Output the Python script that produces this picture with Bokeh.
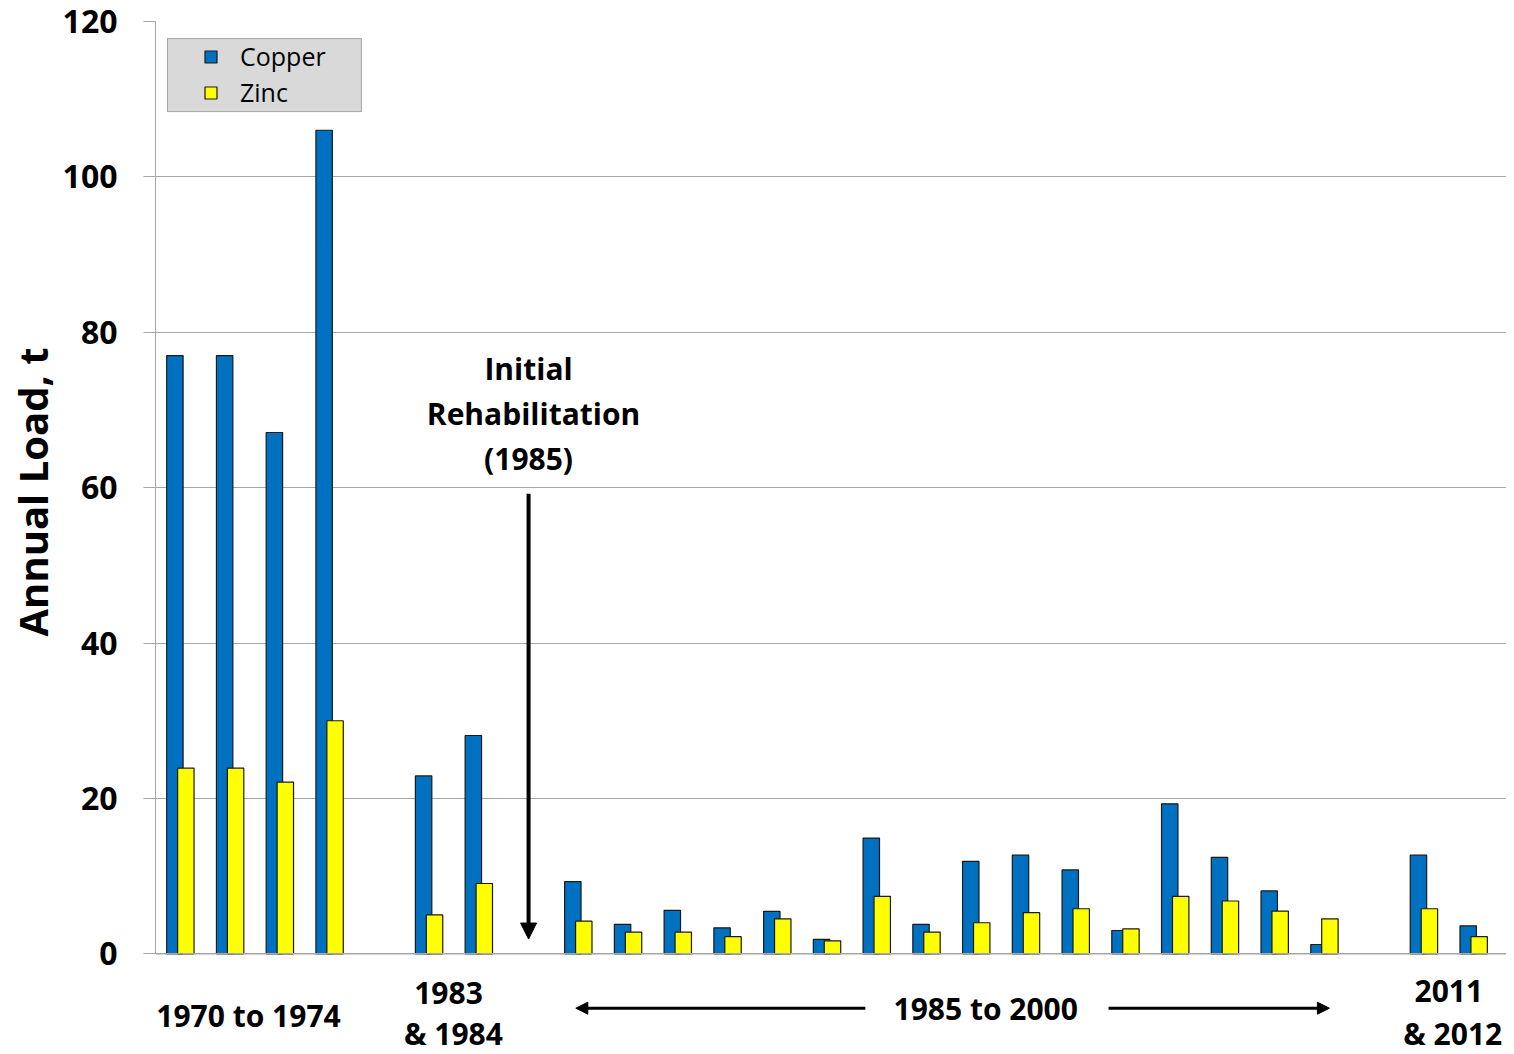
from bokeh.plotting import figure
from bokeh.models import (Range1d, Legend, LegendItem, Label, Arrow, NormalHead,
                          FixedTicker, ColumnDataSource, BoxAnnotation, Span, Title)
from bokeh.embed import file_html
from bokeh.resources import INLINE

# ---- data -------------------------------------------------------------
# category slots on the x axis (None = empty gap slot)
slots = ["1970", "1971", "1972", "1973", None, "1983", "1984", None,
         "1985", "1986", "1987", "1988", "1989", "1990", "1991", "1992",
         "1993", "1994", "1995", "1996", "1997", "1998", "1999", "2000",
         None, "2011", "2012"]
copper = [77.0, 77.0, 67.1, 106.0, 22.9, 28.1, 9.3, 3.8, 5.6, 3.35, 5.45, 1.85,
          14.9, 3.8, 11.9, 12.7, 10.8, 3.0, 19.3, 12.4, 8.1, 1.2, 12.7, 3.6]
zinc = [23.9, 23.9, 22.1, 30.0, 5.0, 9.05, 4.2, 2.8, 2.8, 2.2, 4.5, 1.67,
        7.4, 2.8, 4.0, 5.3, 5.8, 3.2, 7.4, 6.8, 5.5, 4.5, 5.8, 2.2]
y_ticks = [0, 20, 40, 60, 80, 100, 120]

# group labels below the axis: (text, slot position, y value)
group_labels = [("1970 to 1974", 1.37, -7.9),
                ("1983", 5.39, -5.1), ("& 1984", 5.49, -10.3),
                ("1985 to 2000", 16.19, -7.0),
                ("2011", 25.5, -4.8), ("& 2012", 25.58, -10.3)]
note_lines = [("Initial", 7.0, 75.3), ("Rehabilitation", 7.1, 69.5), ("(1985)", 7.0, 63.7)]

FONT = "Open Sans"
Y_MIN = -12.96   # room under the axis for the group labels
X_MAX = len(slots) - 0.5 + 0.16   # small room on the right for "& 2012"

xs = [i for i, s in enumerate(slots) if s is not None]
src = ColumnDataSource(dict(
    year=[s for s in slots if s is not None],
    xc=[x - 0.11 for x in xs],
    xz=[x + 0.11 for x in xs],
    copper=copper,
    zinc=zinc,
))

p = figure(width=1506, height=1054, output_backend="svg", toolbar_location=None,
           x_range=Range1d(-0.5, X_MAX), y_range=Range1d(Y_MIN, 120),
           min_border_left=155, min_border_right=0, min_border_top=21,
           min_border_bottom=0)
p.outline_line_color = None
p.background_fill_color = "white"

rc = p.vbar(x="xc", top="copper", width=0.33, source=src,
            fill_color="#0070C0", line_color="#1a1a1a", line_width=1.2)
rz = p.vbar(x="xz", top="zinc", width=0.33, source=src,
            fill_color="#FFFF00", line_color="#1a1a1a", line_width=1.2)

# axes
p.yaxis.ticker = FixedTicker(ticks=y_ticks)
p.yaxis.bounds = (0, 120)
p.yaxis.major_label_text_font = FONT
p.yaxis.major_label_text_font_style = "bold"
p.yaxis.major_label_text_font_size = "32px"
p.yaxis.major_label_text_color = "black"
p.yaxis.major_tick_out = 12
p.yaxis.major_tick_in = 0
p.yaxis.minor_tick_line_color = None
p.yaxis.major_tick_line_color = "#a6a6a6"
p.yaxis.axis_line_color = "#a6a6a6"
p.yaxis.major_label_standoff = 26

# y-axis title as a left-side title so it can be centred on the 0-120 span
p.add_layout(Title(text="Annual Load, t", align="left", offset=418, standoff=0,
                   text_font=FONT, text_font_style="bold", text_font_size="40px",
                   text_color="black"), "left")

p.xaxis.visible = False
p.xgrid.grid_line_color = None
p.ygrid.grid_line_color = "#a6a6a6"
p.ygrid.grid_line_width = 1.2
p.add_layout(Span(location=0, dimension="width", line_color="#a6a6a6", line_width=1.5))

# legend box (drawn behind) and legend entries
p.add_layout(BoxAnnotation(left=-0.26, right=3.64, bottom=108.4, top=117.8,
                           fill_color="#D9D9D9", fill_alpha=1.0,
                           line_color="black", line_width=1, level="underlay"))
legend = Legend(items=[LegendItem(label="Copper", renderers=[rc]),
                       LegendItem(label="Zinc", renderers=[rz])],
                location=(48, 945), background_fill_alpha=0.0,
                border_line_color=None, glyph_width=15, glyph_height=15,
                label_text_font=FONT, label_text_font_size="25px",
                label_text_color="black",
                label_standoff=22, padding=0, spacing=2, margin=0)
p.add_layout(legend)

# annotations
for txt, x, y in group_labels + note_lines:
    p.add_layout(Label(x=x, y=y, text=txt, text_align="center", text_baseline="middle",
                       text_font=FONT, text_font_style="bold", text_font_size="30px",
                       text_color="black"))

p.add_layout(Arrow(end=NormalHead(size=16, fill_color="black", line_color="black"),
                   x_start=7.0, y_start=59.2, x_end=7.0, y_end=1.9,
                   line_width=4, line_color="black"))
p.add_layout(Arrow(end=NormalHead(size=12, fill_color="black", line_color="black"),
                   x_start=13.77, y_start=-7.0, x_end=7.95, y_end=-7.0,
                   line_width=3, line_color="black"))
p.add_layout(Arrow(end=NormalHead(size=12, fill_color="black", line_color="black"),
                   x_start=18.66, y_start=-7.0, x_end=23.1, y_end=-7.0,
                   line_width=3, line_color="black"))

open("out.html", "w").write(file_html(p, INLINE))
